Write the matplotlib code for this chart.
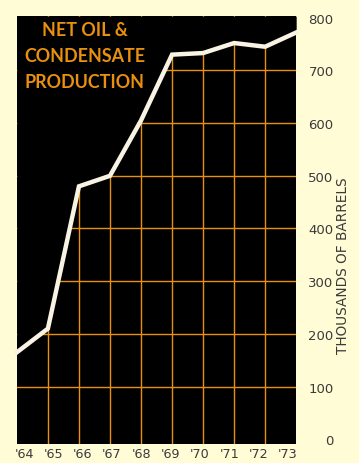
import matplotlib
matplotlib.use("Agg")
import matplotlib.pyplot as plt
import numpy as np

# Net oil & condensate production, thousands of barrels
years = [1964, 1965, 1966, 1967, 1968, 1969, 1970, 1971, 1972, 1973]
production = [165, 210, 480, 500, 605, 730, 733, 752, 745, 772]
year_labels = ["'64", "'65", "'66", "'67", "'68", "'69", "'70", "'71", "'72", "'73"]
y_ticks = [0, 100, 200, 300, 400, 500, 600, 700, 800]

paper = "#fffcd6"
orange = "#e8900f"
ink = "#3a3a3a"

fig = plt.figure(figsize=(3.59, 4.64), dpi=100, facecolor=paper)
ax = fig.add_axes([0.047, 0.041, 0.778, 0.922])
ax.set_facecolor("black")
ax.set_xlim(1964, 1973)
ax.set_ylim(-9, 803)

# orange grid, later hidden above the curve
for yr in years[1:-1]:
    ax.axvline(yr, color=orange, lw=1.0, zorder=1)
for v in y_ticks[1:-1]:
    ax.axhline(v, color=orange, lw=1.0, zorder=1)

ax.fill_between(years, production, 803, color="black", zorder=2, lw=0)
ax.plot(years, production, color="#f8f3e2", lw=3.2, zorder=3,
        solid_joinstyle="miter", clip_on=False)

for s in ax.spines.values():
    s.set_visible(False)

# year labels sit a little tighter than the grid, inside the panel edges
ax.set_xticks(np.linspace(1964.23, 1972.74, len(years)))
ax.set_xticklabels(year_labels, fontsize=9.2, color=ink)
ax.tick_params(axis="x", length=0, pad=2.5)

ax.yaxis.tick_right()
ax.set_yticks(y_ticks)
ax.set_yticklabels([str(v) for v in y_ticks], fontsize=9.5, color=ink)
for lab in ax.get_yticklabels():
    lab.set_horizontalalignment("right")
ax.tick_params(axis="y", length=0, pad=27)

fig.text(0.955, 0.427, "THOUSANDS OF BARRELS", rotation=90, fontsize=9.8,
         color=ink, ha="center", va="center")

title_lines = ["NET OIL &", "CONDENSATE", "PRODUCTION"]
for i, line in enumerate(title_lines):
    fig.text(85 / 359, 1 - (30 + 26.5 * i) / 464, line, fontsize=12.9,
             fontweight="bold", color=orange, ha="center", va="center",
             family="Lato")

fig.savefig("out.png", dpi=100, facecolor=paper)
